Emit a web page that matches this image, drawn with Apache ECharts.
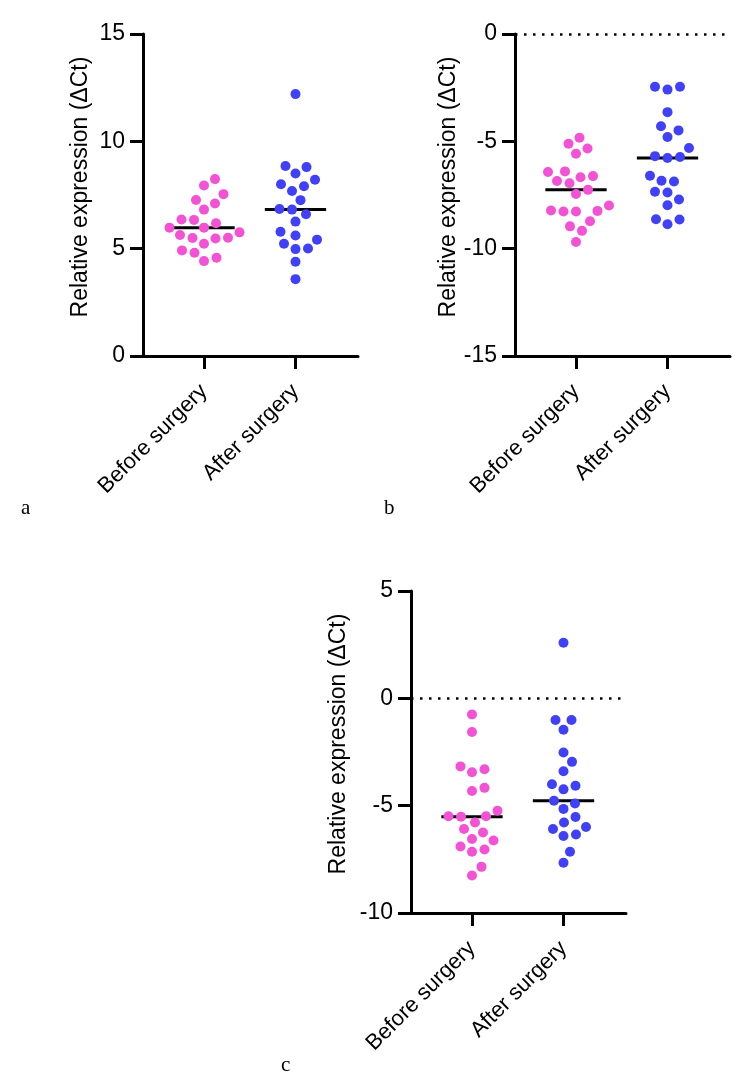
<!DOCTYPE html>
<html>
<head>
<meta charset="utf-8">
<script src="https://cdn.jsdelivr.net/npm/echarts@6/dist/echarts.min.js"></script>
<style>
  html, body { margin: 0; padding: 0; background: #fff; }
  #chart { width: 747px; height: 1086px; }
</style>
</head>
<body>
<div id="chart"></div>
<script>
var categories = ['Before surgery', 'After surgery'];

// panel a
var a_before = [7.94, 8.24, 7.27, 7.54, 6.82, 7.10, 5.98, 5.98, 6.18, 6.34, 6.36,
                5.51, 5.50, 5.47, 5.76, 5.64, 4.92, 4.81, 5.23, 4.42, 4.58];
var a_after = [12.20, 8.80, 8.85, 8.50, 8.21, 8.00, 7.91, 7.69, 7.26, 6.82, 6.85,
               6.60, 6.26, 5.79, 5.61, 5.42, 5.01, 4.98, 5.23, 4.39, 3.58];
var a_ticks = [0, 5, 10, 15];

// panel b
var b_before = [-4.83, -5.11, -5.33, -5.58, -6.43, -6.40, -6.67, -6.62, -6.95, -6.85, -7.26,
                -7.45, -7.99, -8.24, -8.27, -8.22, -8.27, -8.72, -8.96, -9.17, -9.69];
var b_after = [-2.46, -2.59, -2.46, -3.64, -4.49, -4.30, -4.80, -5.31, -5.73, -5.78, -5.69,
               -6.60, -6.84, -6.87, -7.38, -7.35, -7.71, -7.98, -8.86, -8.63, -8.64];
var b_ticks = [-15, -10, -5, 0];

// panel c
var c_before = [-0.75, -1.57, -3.17, -3.30, -3.44, -4.17, -4.32, -5.24, -5.49, -5.52, -5.49,
                -5.78, -6.25, -6.09, -6.55, -6.62, -6.90, -7.15, -7.04, -7.85, -8.25];
var c_after = [2.59, -1.01, -1.01, -1.46, -2.52, -2.96, -3.40, -4.07, -4.24, -4.00, -4.90,
               -4.77, -5.15, -5.53, -5.78, -6.09, -5.99, -6.41, -6.34, -7.15, -7.66];
var c_ticks = [-10, -5, 0, 5];

var PINK = '#F352D5';
var BLUE = '#4040F6';
var FONT = 'Liberation Sans';

// plot size in px, used to lay the dots out as a swarm
var PLOT_W = 215, PLOT_H = 322;
var X_MIN = 1 / 3, X_MAX = 1 / 3 + PLOT_W / 91.5;
var PX_PER_X = 91.5;

function median(arr) {
    var s = arr.slice().sort(function (p, q) { return p - q; });
    var m = Math.floor(s.length / 2);
    return s.length % 2 ? s[m] : (s[m - 1] + s[m]) / 2;
}

// simple beeswarm: place each dot as close to the category centre as it can go
function swarm(vals, center, pxPerY, sep) {
    var order = vals.map(function (v, i) { return i; })
        .sort(function (p, q) { return vals[p] - vals[q]; });
    var placed = [];
    var out = [];
    order.forEach(function (i) {
        var py = vals[i] * pxPerY;
        var off = 0;
        for (var k = 0; k < 400; k++) {
            var cands = k == 0 ? [0] : [k * 0.5, -k * 0.5];
            var ok = null;
            for (var c = 0; c < cands.length; c++) {
                var hit = placed.some(function (p) {
                    var dx = p[0] - cands[c], dy = p[1] - py;
                    return dx * dx + dy * dy < sep * sep;
                });
                if (!hit) { ok = cands[c]; break; }
            }
            if (ok !== null) { off = ok; break; }
        }
        placed.push([off, py]);
        out[i] = [center + off / PX_PER_X, vals[i]];
    });
    return out;
}

var panels = [
    { before: a_before, after: a_after, ticks: a_ticks, left: 143, top: 34, gap: 51, zero: false },
    { before: b_before, after: b_after, ticks: b_ticks, left: 515, top: 34, gap: 55, zero: true },
    { before: c_before, after: c_after, ticks: c_ticks, left: 411, top: 591, gap: 61, zero: true }
];

var grids = [], xAxes = [], yAxes = [], series = [];

panels.forEach(function (p, n) {
    var ymin = p.ticks[0], ymax = p.ticks[p.ticks.length - 1];
    var pxPerY = PLOT_H / (ymax - ymin);

    grids.push({ left: p.left, top: p.top, width: PLOT_W, height: PLOT_H });

    xAxes.push({
        gridIndex: n,
        type: 'value',
        min: X_MIN,
        max: X_MAX,
        splitLine: { show: false },
        axisLine: { onZero: false, lineStyle: { color: '#000', width: 3 } },
        axisTick: { customValues: [1, 2], length: 13, lineStyle: { color: '#000', width: 3 } },
        axisLabel: {
            customValues: [1, 2],
            formatter: function (v) { return categories[Math.round(v) - 1]; },
            rotate: 45,
            margin: 32,
            color: '#000',
            fontSize: 22,
            fontFamily: FONT
        }
    });

    yAxes.push({
        gridIndex: n,
        type: 'value',
        min: ymin,
        max: ymax,
        interval: 5,
        name: 'Relative expression (\u0394Ct)',
        nameLocation: 'middle',
        nameRotate: 90,
        nameGap: p.gap,
        nameTextStyle: { color: '#000', fontSize: 23, fontFamily: FONT, padding: [0, 0, 0, 16] },
        splitLine: { show: false },
        axisLine: { onZero: false, lineStyle: { color: '#000', width: 3 } },
        axisTick: { length: 13, lineStyle: { color: '#000', width: 3 } },
        axisLabel: { margin: 18, color: '#000', fontSize: 23, fontFamily: FONT }
    });

    [p.before, p.after].forEach(function (vals, j) {
        var center = j + 1;
        var med = median(vals);
        // median bar
        series.push({
            type: 'line',
            xAxisIndex: n,
            yAxisIndex: n,
            symbol: 'none',
            silent: true,
            z: 1,
            lineStyle: { color: '#000', width: 3 },
            data: [[center - 0.335, med], [center + 0.335, med]]
        });
        var s = {
            type: 'scatter',
            xAxisIndex: n,
            yAxisIndex: n,
            symbolSize: 10,
            z: 3,
            itemStyle: { color: j == 0 ? PINK : BLUE, opacity: 1 },
            data: swarm(vals, center, pxPerY, 12.5)
        };
        // dotted line at zero
        if (p.zero && j == 0) {
            s.markLine = {
                silent: true,
                symbol: 'none',
                label: { show: false },
                lineStyle: { color: '#000', width: 2.5, type: [2.5, 6.5] },
                data: [{ yAxis: 0 }]
            };
        }
        series.push(s);
    });
});

var chart = echarts.init(document.getElementById('chart'));

var option = {
    backgroundColor: '#fff',
    animation: false,
    grid: grids,
    xAxis: xAxes,
    yAxis: yAxes,
    series: series,
    graphic: [
        { type: 'text', left: 21, top: 498, style: { text: 'a', fontSize: 21, fontFamily: 'Liberation Serif', fill: '#000' } },
        { type: 'text', left: 384, top: 498, style: { text: 'b', fontSize: 21, fontFamily: 'Liberation Serif', fill: '#000' } },
        { type: 'text', left: 281, top: 1055, style: { text: 'c', fontSize: 21, fontFamily: 'Liberation Serif', fill: '#000' } }
    ]
};

chart.setOption(option);
</script>
</body>
</html>
